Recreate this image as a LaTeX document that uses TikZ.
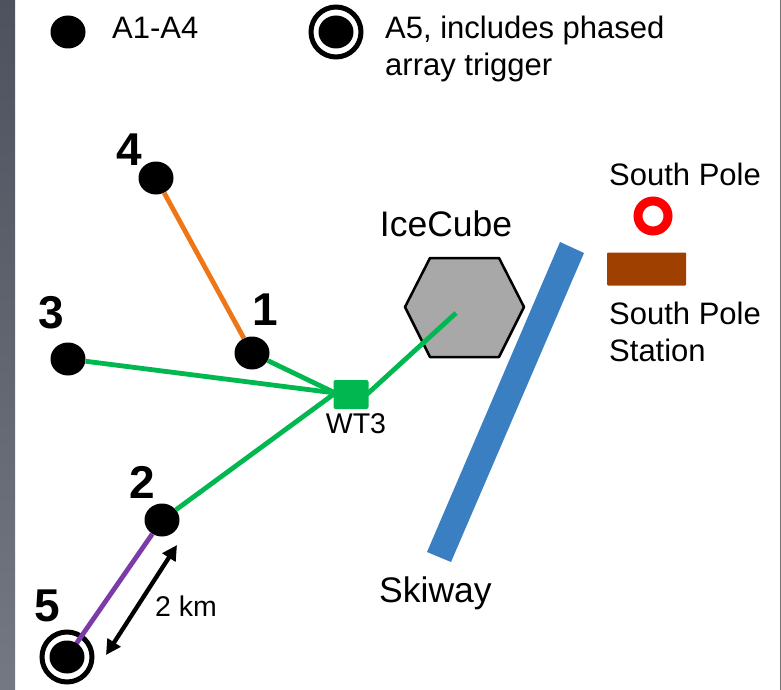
\documentclass[tikz,border=0pt]{standalone}
\usepackage{fontspec}
\setmainfont{Liberation Sans}
\usetikzlibrary{arrows.meta,shapes.geometric}
\definecolor{wire}{HTML}{00B84F}
\definecolor{orangewire}{HTML}{EE7617}
\definecolor{purplewire}{HTML}{7B3BA8}
\definecolor{skiblue}{HTML}{3A7FC1}
\definecolor{station}{HTML}{A04000}
\definecolor{ice}{HTML}{A8A8A8}
\definecolor{striptop}{HTML}{4E525E}
\definecolor{stripbot}{HTML}{747882}
\tikzset{
 stn/.style={ellipse,fill=black,minimum width=35pt,minimum height=33pt,inner sep=0pt},
 lbl/.style={inner sep=0pt,font=\fontsize{31}{37}\selectfont,align=left},
 big/.style={inner sep=0pt,font=\fontsize{35.5}{40}\selectfont},
 small/.style={inner sep=0pt,font=\fontsize{28.5}{32}\selectfont},
 num/.style={inner sep=0pt,font=\fontsize{46}{50}\selectfont\bfseries},
 cable/.style={line width=4.8pt},
 ring/.style={circle,fill=white,draw=black,line width=5pt,minimum size=50pt,inner sep=0pt},
}
\begin{document}
\begin{tikzpicture}[x=1pt,y=-1pt]
\useasboundingbox (0,0) rectangle (781,690);
\fill[white] (0,0) rectangle (781,690);
\shade[top color=striptop, bottom color=stripbot] (0,0) rectangle (15,690);
\fill[black!55] (779.5,0) rectangle (781,690);
% hexagon
\draw[black,line width=2.5pt,fill=ice,line join=round] (405,307) -- (430,258) -- (499,258) -- (524,307) -- (499,357) -- (430,357) -- cycle;
\coordinate (ic) at (456,313);
% stations
\node[stn] (s1) at (252,353) {};
\node[stn] (s2) at (162,520) {};
\node[stn] (s3) at (68,359) {};
\node[stn] (s4) at (156,178) {};
\node[ring] (s5o) at (67,657) {};
\node[fill=wire,minimum width=35pt,minimum height=29pt,inner sep=0pt,rounded corners=2pt] (wt) at (351,394.5) {};
\coordinate (wl) at ([xshift=2pt,yshift=1.5pt]wt.west);
\coordinate (wr) at ([xshift=-2pt]wt.east);
% cables
\draw[cable,orangewire] (s4) -- (s1);
\draw[cable,purplewire] (s2) -- (s5o.center);
\draw[cable,wire] (s1) -- (wl);
\draw[cable,wire] (s3) -- (wl);
\draw[cable,wire] (s2) -- (wl);
\draw[cable,wire] (wr) -- (ic);
\node[stn] (s5) at (67,657) {};
% skiway
\fill[skiblue] (560,242) -- (584,253) -- (451,562) -- (427,552) -- cycle;
% scale arrow
\coordinate (a1) at (177,545);
\coordinate (a2) at (106,655);
\draw[line width=4.3pt,black,{Triangle[length=15pt,width=15pt]}-{Triangle[length=15pt,width=15pt]}] (a1) -- (a2);
% south pole
\node[circle,draw=red,line width=9pt,fill=white,minimum size=30pt,inner sep=0pt] (sp) at (653,216) {};
\node[fill=station,minimum width=79pt,minimum height=33pt,inner sep=0pt,rounded corners=1pt] (sta) at (646.5,269) {};
% legend
\node[stn] (l1) at (68,32) {};
\node[ring] (l2o) at (336,32) {};
\node[stn] (l2) at (336,32) {};
% labels
\node[lbl,anchor=west] (t1) at (112,28) {A1-A4};
\node[lbl,anchor=north west] (t2) at (385,16) {A5, includes phased\\array trigger};
\node[big,anchor=center] (t3) at (446,224) {IceCube};
\node[lbl,anchor=west] (t4) at (609,174) {South Pole};
\node[lbl,anchor=north west] (t5) at (609,302) {South Pole\\Station};
\node[big,anchor=west] (t6) at (379,593) {Skiway};
\node[small] (t7) at (356,424) {WT3};
\node[small] (t8) at (186,606) {2 km};
\node[num] (n1) at (265,310) {1};
\node[num] (n2) at (142,482) {2};
\node[num] (n3) at (51,313) {3};
\node[num] (n4) at (129,150) {4};
\node[num] (n5) at (47,606) {5};
\end{tikzpicture}
\end{document}
